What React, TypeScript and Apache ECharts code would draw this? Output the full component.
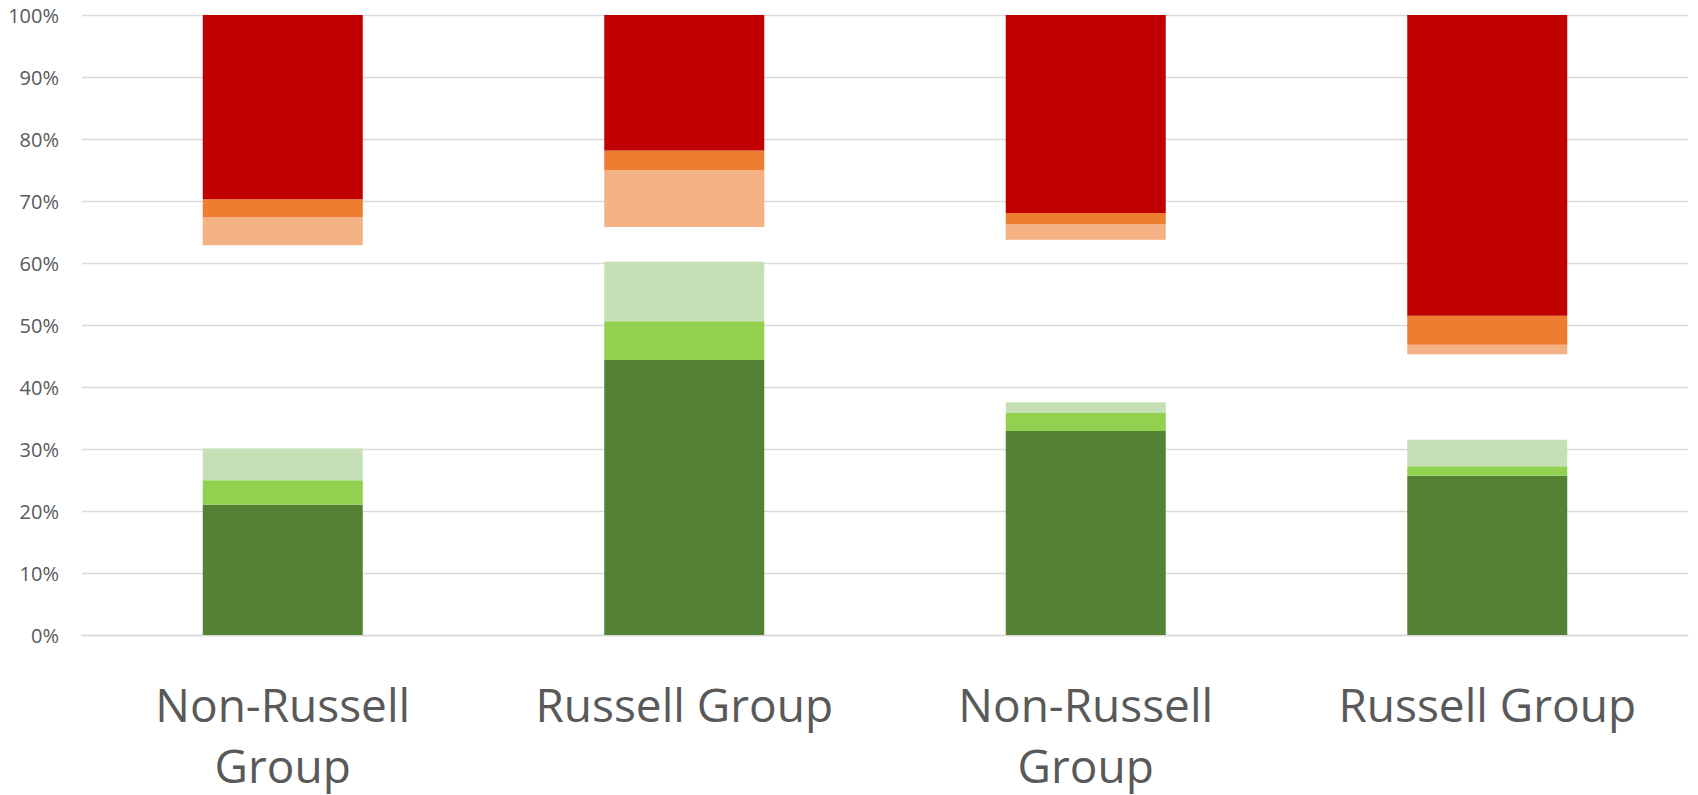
import React, { useEffect, useRef } from "react";
import * as echarts from "echarts";

const categories = ["Non-Russell Group", "Russell Group", "Non-Russell Group", "Russell Group"];
const yTicks = { min: 0, max: 100, interval: 10 };

const stronglyAgree = [21.0, 44.35, 32.9, 25.7];
const agree = [3.95, 6.25, 2.9, 1.5];
const somewhatAgree = [5.15, 9.6, 1.73, 4.3];
const neutral = [32.75, 5.6, 26.24, 13.8];
const somewhatDisagree = [4.55, 9.15, 2.47, 1.5];
const disagree = [2.87, 3.18, 1.82, 4.7];
const stronglyDisagree = [29.73, 21.87, 31.94, 48.5];

const seriesDefs = [
  { name: "Strongly agree", data: stronglyAgree, color: "#548235" },
  { name: "Agree", data: agree, color: "#92D050" },
  { name: "Somewhat agree", data: somewhatAgree, color: "#C5E0B4" },
  { name: "Neutral", data: neutral, color: "transparent" },
  { name: "Somewhat disagree", data: somewhatDisagree, color: "#F4B183" },
  { name: "Disagree", data: disagree, color: "#ED7D31" },
  { name: "Strongly disagree", data: stronglyDisagree, color: "#C00000" },
];

export default function App() {
  const ref = useRef<HTMLDivElement>(null);
  useEffect(() => {
    if (!ref.current) return;
    const chart = echarts.init(ref.current, null, { renderer: "svg" });
    chart.setOption({
      animation: false,
      backgroundColor: "#ffffff",
      grid: {
        left: 82,
        right: 10,
        top: 15,
        bottom: 160,
        containLabel: false,
        outerBoundsMode: "none",
      },
      xAxis: {
        type: "category",
        data: categories,
        axisLine: { show: true, lineStyle: { color: "#D9D9D9", width: 1.3 } },
        axisTick: { show: false },
        axisLabel: {
          interval: 0,
          color: "#595959",
          fontFamily: "Open Sans",
          fontSize: 46,
          lineHeight: 61,
          margin: 38,
          formatter: (v: string) => (v.startsWith("Non-") ? v.replace(" ", "\n") : v),
        },
      },
      yAxis: {
        type: "value",
        min: yTicks.min,
        max: yTicks.max,
        interval: yTicks.interval,
        axisLine: { show: false },
        axisTick: { show: false },
        splitLine: { show: true, lineStyle: { color: "#D9D9D9", width: 1.3 } },
        axisLabel: {
          formatter: "{value}%",
          color: "#595959",
          fontFamily: "Open Sans",
          fontSize: 20,
          margin: 23,
        },
      },
      series: seriesDefs.map((s) => ({
        name: s.name,
        type: "bar",
        stack: "total",
        data: s.data,
        barWidth: 160,
        itemStyle: { color: s.color },
        emphasis: { disabled: true },
      })),
    });
    return () => chart.dispose();
  }, []);
  return (
    <div
      ref={ref}
      style={{ position: "absolute", left: 0, top: 0, width: 1698, height: 795 }}
    />
  );
}
